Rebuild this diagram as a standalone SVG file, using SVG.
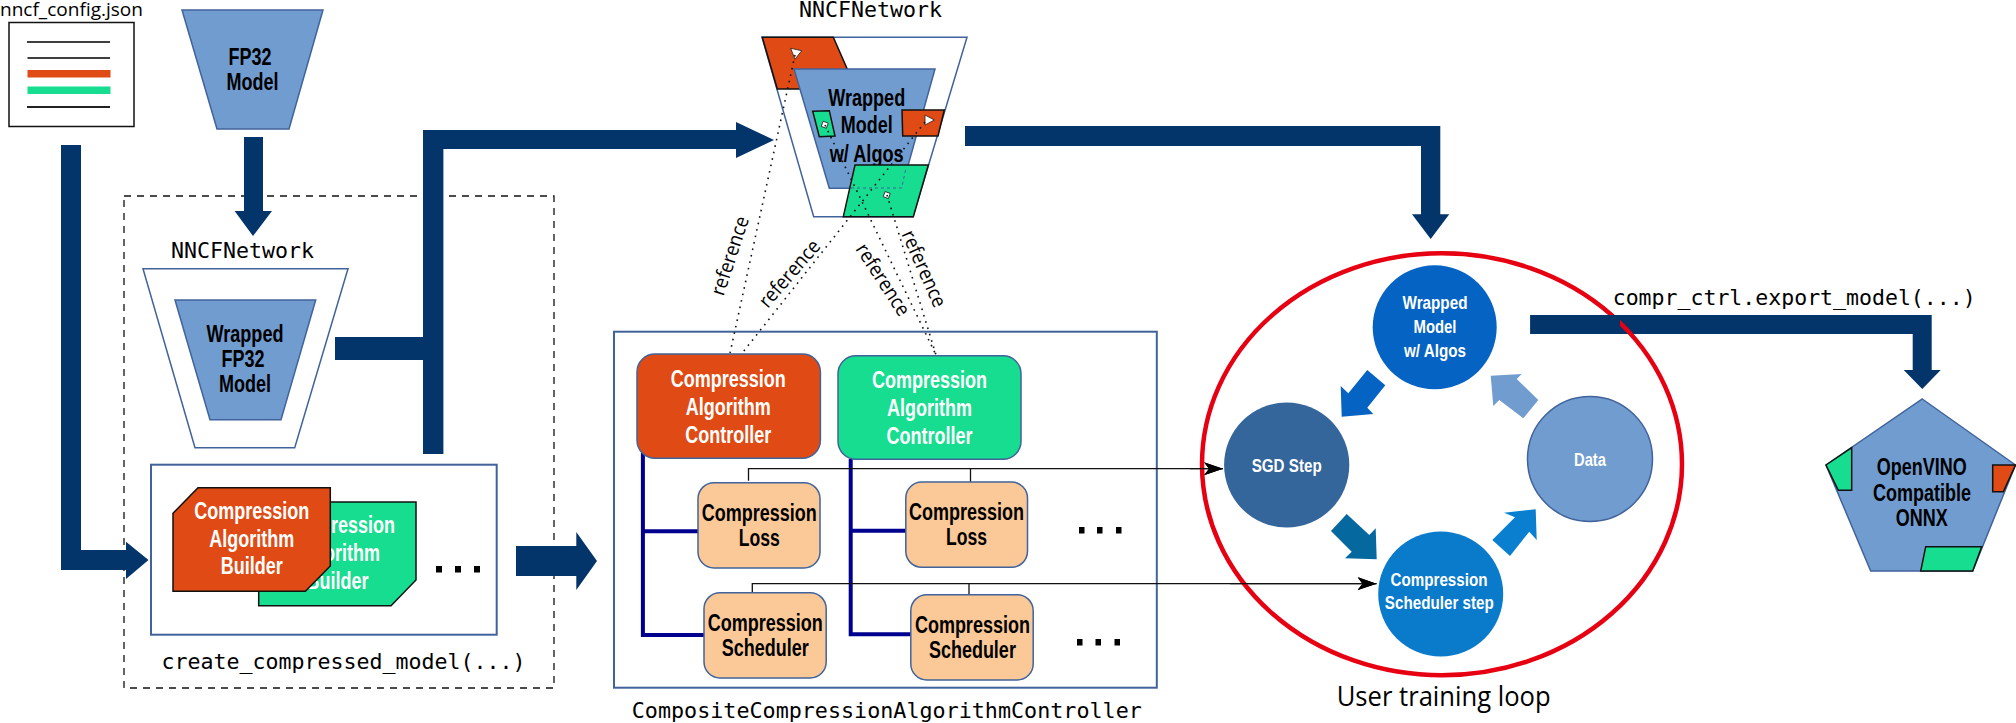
<svg xmlns="http://www.w3.org/2000/svg" width="2016" height="723" viewBox="0 0 2016 723">
<style>
text{font-family:"Liberation Sans",Arial,sans-serif}
.b{font-weight:700;font-size:23px;text-anchor:middle;fill:#000}
.w{font-weight:700;font-size:23px;text-anchor:middle;fill:#fff}
.s{font-weight:700;font-size:18.500px;text-anchor:middle;fill:#fff}
.m{font-family:"DejaVu Sans Mono","Liberation Mono",monospace;font-size:21.6px;fill:#000}
.u{font-family:"Open Sans","Noto Sans",sans-serif;fill:#000}
.r{font-family:"Open Sans","Noto Sans",sans-serif;font-size:20px;text-anchor:middle;fill:#000}
.nav{fill:#03356b;stroke:none}
.blue{fill:#719cd0;stroke:#41639b;stroke-width:1.5}
.wt{fill:#fff;stroke:#41639b;stroke-width:1.5}
.or{fill:#e04a14;stroke:#111;stroke-width:1.5}
.gr{fill:#16dd90;stroke:#111;stroke-width:1.5}
.rb{fill:#fbc998;stroke:#41639b;stroke-width:1.5}
.box{fill:#fff;stroke:#41639b;stroke-width:2}
.tree{fill:none;stroke:#00008f;stroke-width:4}
.thin{fill:none;stroke:#111;stroke-width:1.3}
.dot{fill:none;stroke:#111;stroke-width:1.6;stroke-dasharray:1.6 5}
.sq{fill:#000}
.mk{fill:#fff;stroke:#222;stroke-width:.8}
</style>
<defs>
<marker id="ah" markerUnits="userSpaceOnUse" markerWidth="20" markerHeight="14" refX="19" refY="6.5" orient="auto"><path d="M0 0L19 6.5L0 13L5 6.5Z" fill="#000"/></marker>
</defs>

<g id="config">
<text class="u" x="0" y="15.500" font-size="18" textLength="143" lengthAdjust="spacingAndGlyphs">nncf_config.json</text>
<rect x="9" y="22.500" width="125" height="104" fill="#fff" stroke="#111" stroke-width="1.500"/>
<path d="M27 42H110M27.500 58H110" stroke="#000" stroke-width="1.500" fill="none"/>
<rect x="27.500" y="70" width="83" height="7.500" fill="#e04a14"/>
<rect x="27.500" y="86.500" width="83" height="7.500" fill="#16dd90"/>
<path d="M27 107H110" stroke="#222" stroke-width="1.800" fill="none"/>
</g>

<g id="fp32">
<polygon class="blue" points="182,10 323,10 289,129 217,129"/>
<text class="b" x="250" y="65" textLength="43" lengthAdjust="spacingAndGlyphs">FP32</text>
<text class="b" x="252.500" y="90" textLength="52" lengthAdjust="spacingAndGlyphs">Model</text>
</g>

<g id="create-box">
<rect x="124" y="196" width="430" height="492" fill="none" stroke="#111" stroke-width="1.300" stroke-dasharray="7 6"/>
<text class="m" x="161.500" y="669" textLength="364" lengthAdjust="spacingAndGlyphs">create_compressed_model(...)</text>
</g>

<g id="nncf-wrapped">
<text class="m" x="171" y="258" textLength="143" lengthAdjust="spacingAndGlyphs">NNCFNetwork</text>
<polygon class="wt" points="143,268.700 348,268.700 294.700,447.700 195,447.700"/>
<polygon class="blue" points="175,300 315.700,300 281,419.700 210,419.700"/>
<text class="b" x="245" y="342" textLength="77" lengthAdjust="spacingAndGlyphs">Wrapped</text>
<text class="b" x="243" y="367" textLength="43" lengthAdjust="spacingAndGlyphs">FP32</text>
<text class="b" x="245" y="392" textLength="52" lengthAdjust="spacingAndGlyphs">Model</text>
</g>

<g id="builders">
<rect class="box" x="151" y="464.700" width="345.700" height="170"/>
<polygon class="gr" points="258.700,502 416,502 416,580 391,605.700 258.700,605.700"/>
<text class="w" x="337.500" y="533" textLength="115" lengthAdjust="spacingAndGlyphs">Compression</text>
<text class="w" x="337.500" y="561" textLength="85" lengthAdjust="spacingAndGlyphs">Algorithm</text>
<text class="w" x="337.500" y="589" textLength="62" lengthAdjust="spacingAndGlyphs">Builder</text>
<polygon class="or" points="173,513.300 198,487.700 330.300,487.700 330.300,566 305.400,591.300 173,591.300"/>
<text class="w" x="251.800" y="519" textLength="115" lengthAdjust="spacingAndGlyphs">Compression</text>
<text class="w" x="251.800" y="547" textLength="85" lengthAdjust="spacingAndGlyphs">Algorithm</text>
<text class="w" x="251.800" y="574" textLength="62" lengthAdjust="spacingAndGlyphs">Builder</text>
<rect class="sq" x="436" y="566" width="6" height="6.500"/><rect class="sq" x="455" y="566" width="6" height="6.500"/><rect class="sq" x="474" y="566" width="6" height="6.500"/>
</g>

<g id="nncf-algos">
<text class="m" x="799" y="17" textLength="143" lengthAdjust="spacingAndGlyphs">NNCFNetwork</text>
<polygon class="wt" points="762,37.300 967,37.300 913,216.700 813.700,216.700"/>
<polygon class="or" points="762.300,37.300 833.300,37.300 856,89 777.300,89"/>
<polygon class="blue" points="794,69 935,69 901.700,188.300 829.300,188.300"/>
<polygon class="gr" points="812.700,111.300 829.300,110.700 835,136 819.300,136.700"/>
<polygon class="or" points="902,110 944.300,110 938,136 902.700,136"/>
<text class="b" x="866.700" y="106" textLength="77" lengthAdjust="spacingAndGlyphs">Wrapped</text>
<text class="b" x="866.700" y="133.300" textLength="52" lengthAdjust="spacingAndGlyphs">Model</text>
<text class="b" x="866.700" y="161.700" textLength="74" lengthAdjust="spacingAndGlyphs">w/ Algos</text>
<polygon class="gr" points="855,165 928.300,165 913.300,216.700 843.300,216.700"/>
<path d="M851 188H901.700L906 168" fill="none" stroke="#41639b" stroke-width="1" stroke-dasharray="3 3"/>
<polygon class="mk" points="790.700,48.300 801.700,50.700 795,59.300"/>
<polygon class="mk" points="925,115 934.300,120 925,125"/>
<rect class="mk" x="822" y="122" width="5.500" height="5.500" transform="rotate(20 824.700 124.700)"/>
<rect class="mk" x="884" y="192.300" width="5.500" height="5.500" transform="rotate(20 886.700 195)"/>
</g>

<g id="composite">
<rect class="box" x="614" y="331.700" width="542.800" height="356"/>
<text class="m" x="631.800" y="717.700" textLength="510" lengthAdjust="spacingAndGlyphs">CompositeCompressionAlgorithmController</text>
</g>

<g id="connectors">
<path class="nav" d="M244 137H263V211H272L253 236L234.600 211H244Z"/>
<path class="nav" d="M61 145H81V550H126V541.700L148.500 560L126 579V570H61Z"/>
<path class="nav" d="M335 337H423V130H736V122L774 140L736 158V149H443.400V454H423V360H335Z"/>
<path class="nav" d="M516 546H576.300V532L597 561L576.300 590V576H516Z"/>
<path class="nav" d="M965 126H1440.300V214.300H1449.300L1430.700 239L1412 214.300H1421V146H965Z"/>
<path class="nav" d="M1530.300 315H1931.700V370H1940.700L1922.300 389L1903.700 370H1912.700V334H1530.300Z"/>
<path class="dot" d="M795 55L727 367"/>
<path class="dot" d="M925 122L732 366"/>
<path class="dot" d="M825 125L936 355"/>
<path class="dot" d="M887 195L936 355"/>
<path class="tree" d="M642.900 453V635H704M642.900 531.300H698"/>
<path class="tree" d="M850.700 459V634.300H910.800M850.700 530.700H906"/>
<path class="thin" d="M748.500 480.700V468.700H1223" marker-end="url(#ah)"/>
<path class="thin" d="M970.500 482V468.700"/>
<path class="thin" d="M752.300 592.700V583.700H1376.500" marker-end="url(#ah)"/>
<path class="thin" d="M969 594.700V583.700"/>
</g>

<g id="controllers">
<rect class="or" style="stroke:#41639b" x="637" y="354" width="183.400" height="104.300" rx="18"/>
<text class="w" x="728.200" y="386.700" textLength="115" lengthAdjust="spacingAndGlyphs">Compression</text>
<text class="w" x="728.200" y="415" textLength="85" lengthAdjust="spacingAndGlyphs">Algorithm</text>
<text class="w" x="728.200" y="442.700" textLength="86" lengthAdjust="spacingAndGlyphs">Controller</text>
<rect class="gr" style="stroke:#41639b" x="838" y="355.700" width="183" height="103.600" rx="18"/>
<text class="w" x="929.500" y="388.300" textLength="115" lengthAdjust="spacingAndGlyphs">Compression</text>
<text class="w" x="929.500" y="416" textLength="85" lengthAdjust="spacingAndGlyphs">Algorithm</text>
<text class="w" x="929.500" y="444" textLength="86" lengthAdjust="spacingAndGlyphs">Controller</text>
</g>
<g id="loss-1"><rect class="rb" x="698" y="482.700" width="122" height="85.300" rx="16"/>
<text class="b" x="759.200" y="520.700" textLength="115" lengthAdjust="spacingAndGlyphs">Compression</text>
<text class="b" x="759.200" y="546" textLength="41" lengthAdjust="spacingAndGlyphs">Loss</text></g>
<g id="loss-2"><rect class="rb" x="905.800" y="482" width="121.700" height="85.300" rx="16"/>
<text class="b" x="966.600" y="520" textLength="115" lengthAdjust="spacingAndGlyphs">Compression</text>
<text class="b" x="966.600" y="545.300" textLength="41" lengthAdjust="spacingAndGlyphs">Loss</text></g>
<g id="sched-1"><rect class="rb" x="704" y="592.700" width="122.200" height="85.300" rx="16"/>
<text class="b" x="765.300" y="631" textLength="115" lengthAdjust="spacingAndGlyphs">Compression</text>
<text class="b" x="765.300" y="655.700" textLength="87" lengthAdjust="spacingAndGlyphs">Scheduler</text></g>
<g id="sched-2"><rect class="rb" x="910.800" y="594.700" width="122.400" height="85.300" rx="16"/>
<text class="b" x="972.400" y="633.300" textLength="115" lengthAdjust="spacingAndGlyphs">Compression</text>
<text class="b" x="972.400" y="658.300" textLength="87" lengthAdjust="spacingAndGlyphs">Scheduler</text></g>
<g id="ellipsis">
<rect class="sq" x="1079" y="527" width="5.500" height="6.500"/><rect class="sq" x="1097" y="527" width="5.500" height="6.500"/><rect class="sq" x="1116" y="527" width="5.500" height="6.500"/>
<rect class="sq" x="1077" y="639" width="5.500" height="6.500"/><rect class="sq" x="1095.500" y="639" width="5.500" height="6.500"/><rect class="sq" x="1114.500" y="639" width="5.500" height="6.500"/>
</g>

<g id="reference-labels">
<text class="r" transform="translate(730.700 256) rotate(-71.600)" y="6" textLength="82" lengthAdjust="spacingAndGlyphs">reference</text>
<text class="r" transform="translate(790 274) rotate(-49)" y="6" textLength="82" lengthAdjust="spacingAndGlyphs">reference</text>
<text class="r" transform="translate(882.300 280) rotate(57)" y="6" textLength="82" lengthAdjust="spacingAndGlyphs">reference</text>
<text class="r" transform="translate(923.300 269) rotate(66)" y="6" textLength="82" lengthAdjust="spacingAndGlyphs">reference</text>
</g>

<g id="training-loop">
<ellipse cx="1442" cy="464.300" rx="240" ry="211" fill="none" stroke="#e60012" stroke-width="4.500"/>
<text class="u" x="1336.700" y="706" font-size="28" textLength="214" lengthAdjust="spacingAndGlyphs">User training loop</text>
</g>
<g id="loop-over">
<path class="thin" d="M1190 468.700H1223" marker-end="url(#ah)"/>
<path class="thin" d="M1230 583.700H1376.500" marker-end="url(#ah)"/>
<path class="nav" d="M1530.300 315H1620V334H1530.300Z"/>
<circle cx="1434.700" cy="327.300" r="62" fill="#0563c4"/>
<text class="s" x="1435" y="309.300" textLength="65" lengthAdjust="spacingAndGlyphs">Wrapped</text>
<text class="s" x="1435" y="333.300" textLength="43" lengthAdjust="spacingAndGlyphs">Model</text>
<text class="s" x="1435" y="356.700" textLength="62" lengthAdjust="spacingAndGlyphs">w/ Algos</text>
<circle cx="1286.700" cy="465" r="62.600" fill="#34659b"/>
<text class="s" x="1286.700" y="471.700" textLength="70" lengthAdjust="spacingAndGlyphs">SGD Step</text>
<circle cx="1440.700" cy="594" r="62.500" fill="#0a7acb"/>
<text class="s" x="1439" y="585.700" textLength="97" lengthAdjust="spacingAndGlyphs">Compression</text>
<text class="s" x="1439.300" y="609" textLength="109" lengthAdjust="spacingAndGlyphs">Scheduler step</text>
<circle class="blue" cx="1590" cy="459" r="62.500"/>
<text class="s" x="1590" y="466" textLength="32" lengthAdjust="spacingAndGlyphs">Data</text>
<polygon fill="#0563c4" points="1367.300,370 1385.300,385.300 1367.300,407.700 1373.300,414 1341.700,416.700 1340.700,386 1348.300,393.300"/>
<polygon fill="#05689f" points="1346.700,514 1369.300,535 1375.700,528.300 1376.700,559.300 1345,558.300 1351.700,551.700 1331,531"/>
<polygon fill="#0a7fd0" points="1492.300,540 1515,517.300 1504,512.700 1535.700,509.300 1536.700,540 1529.300,531.700 1510,556"/>
<polygon fill="#719cd0" points="1538.300,400 1516.700,379 1521.700,374 1490.700,375.700 1493.300,406 1499.300,400 1523.300,418.300"/>
</g>

<g id="export">
<text class="m" x="1612.700" y="305" textLength="363" lengthAdjust="spacingAndGlyphs">compr_ctrl.export_model(...)</text>
<polygon class="blue" points="1922.300,399 2015.500,465 1972.700,571 1870.700,571 1826,465"/>
<polygon class="gr" points="1826,465 1851.700,447.700 1851.700,490.300 1838.300,490.300"/>
<polygon class="or" points="1992.700,465 2015.500,465 2003.300,491.700 1992.700,491.700"/>
<polygon class="gr" points="1925.700,546.700 1981.700,546.700 1972.700,571 1920.700,571"/>
<text class="b" x="1921.700" y="475" textLength="90" lengthAdjust="spacingAndGlyphs">OpenVINO</text>
<text class="b" x="1922" y="501" textLength="98" lengthAdjust="spacingAndGlyphs">Compatible</text>
<text class="b" x="1921.700" y="526" textLength="52" lengthAdjust="spacingAndGlyphs">ONNX</text>
</g>
</svg>
